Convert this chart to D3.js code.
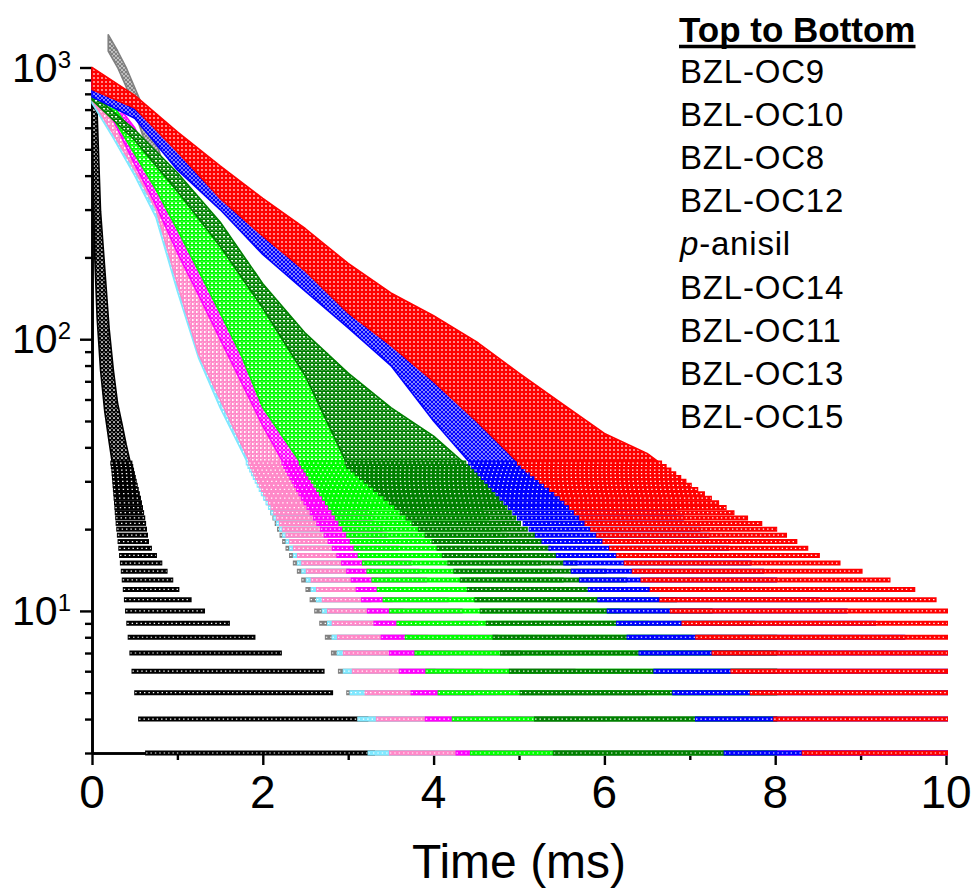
<!DOCTYPE html>
<html>
<head>
<meta charset="utf-8">
<script src="https://cdn.jsdelivr.net/npm/d3@7"></script>
<style>
  html, body { margin: 0; padding: 0; background: #fff; }
  svg { display: block; font-family: "Liberation Sans", Arial, sans-serif; }
</style>
</head>
<body>
<svg id="chart" width="971" height="890"></svg>
<script>
// Decay data: for each sample, time (ms) with the low and
// high edge of the point cloud (counts).
const redTime = [0, 0.5, 1, 1.5, 2, 2.5, 3, 3.5, 4, 4.5, 5, 5.5, 6, 6.5, 7, 7.5, 8, 8.5, 9, 9.5, 10];
const redLow  = [830, 710, 490, 330, 240, 178, 125, 95, 70, 50, 35, 26, 18, 12.5, 8.5, 6, 4, 2.6, 2.4, 2.2, 2];
const redHigh = [1000, 790, 580, 434, 330, 255, 190, 148, 122, 98, 75, 58, 45, 38, 29, 23, 20, 16, 14, 12.5, 10.5];

const blueTime = [0, 0.5, 1, 1.5, 2, 2.5, 3, 3.5, 4, 4.5, 5, 5.5, 6, 6.5, 7, 7.5, 8, 8.5, 9, 9.5, 10];
const blueLow  = [780, 650, 420, 300, 205, 150, 110, 80, 50, 33, 22, 15.5, 10.5, 6.5, 4.3, 2.8, 2.6, 2.4, 2.3, 2.2, 2.1];
const blueHigh = [900, 700, 520, 390, 290, 220, 165, 125, 100, 78, 60, 46, 36, 27, 21, 16.5, 13, 11, 9.5, 8, 7];

const dkgreenTime = [0, 0.5, 1, 1.5, 2, 2.5, 3, 3.5, 4, 4.5, 5, 5.5, 6, 6.5, 7, 7.5, 8];
const dkgreenLow  = [760, 540, 350, 220, 130, 73, 34, 25, 18, 11, 5.2, 2.7, 2.5, 2.4, 2.3, 2.2, 2.1];
const dkgreenHigh = [800, 590, 410, 270, 160, 105, 75, 56, 44, 32, 21, 15.5, 14, 12, 10.5, 9.5, 8.5];

const greenTime = [0, 0.25, 0.5, 0.75, 1, 1.25, 1.5, 1.75, 2, 2.5, 3, 3.5, 4, 4.5, 5, 5.5, 6, 6.5, 7, 7.5, 8];
const greenLow  = [820, 650, 480, 355, 253, 178, 125, 87, 56, 33, 19, 10, 5.5, 2.8, 2.6, 2.5, 2.4, 2.3, 2.2, 2.1, 2];
const greenHigh = [850, 720, 560, 450, 360, 290, 240, 190, 150, 95, 64, 45, 33, 24, 17, 13, 10.5, 9, 8, 7.5, 7];

const magentaTime = [0, 0.25, 0.5, 0.75, 1, 1.25, 1.5, 2, 2.5, 3, 3.5, 4, 4.5, 5, 6, 7, 8, 9, 10];
const magentaLow  = [800, 640, 440, 310, 208, 145, 100, 48, 25, 14, 7, 3.6, 2.6, 2.5, 2.4, 2.3, 2.2, 2.1, 2];
const magentaHigh = [900, 760, 600, 420, 290, 220, 160, 85, 48, 28, 18, 12, 9, 7, 5.5, 4.5, 4, 3.6, 3.4];

const pinkTime = [0, 0.25, 0.5, 0.75, 1, 1.25, 1.5, 1.75, 2, 2.25, 2.5, 2.75, 3, 3.25, 3.5, 4, 5, 6, 7, 8, 9, 10];
const pinkLow  = [760, 570, 420, 300, 160, 88, 60, 41, 28, 20, 14.5, 10.5, 6.5, 4.8, 3, 2.6, 2.5, 2.4, 2.3, 2.2, 2.1, 2];
const pinkHigh = [850, 680, 500, 360, 250, 170, 120, 85, 60, 44, 32, 24, 18, 14, 11, 7.5, 5, 4, 3.5, 3.2, 3.1, 3];

const cyanTime = [0, 0.25, 0.5, 0.75, 1, 1.25, 1.5, 1.75, 2, 2.25, 2.5, 2.75, 3, 3.25, 3.5, 4, 5, 6, 7, 8, 9, 10];
const cyanLow  = [740, 550, 400, 280, 150, 85, 56, 39, 27, 19, 13.5, 9.5, 5.5, 3, 2.6, 2.5, 2.4, 2.3, 2.2, 2.1, 2.05, 2];
const cyanHigh = [820, 640, 470, 340, 230, 160, 110, 78, 55, 40, 29, 21, 16, 12, 9.5, 6.5, 4.5, 3.7, 3.3, 3.1, 3.05, 3];

const grayTime = [0.19, 0.3, 0.4, 0.7, 1, 1.25, 1.5, 1.75, 2, 2.25, 2.5, 2.75, 3, 3.25, 3.5, 4, 5, 6, 7, 8, 9, 10];
const grayLow  = [1150, 1000, 850, 450, 210, 110, 62, 40, 28, 18, 12.5, 8, 5, 3.2, 2.6, 2.5, 2.4, 2.3, 2.2, 2.1, 2.05, 2];
const grayHigh = [1320, 1150, 1000, 600, 300, 180, 110, 75, 50, 35, 25, 18, 14, 11, 9, 6, 4, 3.5, 3.2, 3.1, 3.05, 3];

const blackTime = [0, 0.03, 0.06, 0.1, 0.15, 0.2, 0.25, 0.3, 0.35, 0.4, 0.45, 0.5, 0.55, 0.6, 0.65, 0.8, 1, 1.3, 1.75, 2.2, 2.7, 2.8, 3.2, 3.3];
const blackLow  = [720, 210, 120, 77, 54, 42, 33, 21, 15, 10.8, 7.5, 5.5, 4.2, 3.5, 2.95, 2.6, 2.5, 2.4, 2.3, 2.2, 2.15, 2.1, 2.05, 2];
const blackHigh = [720, 710, 680, 296, 181, 110, 77, 58, 49, 41, 35, 30, 26, 22, 17.5, 15, 12, 10, 8.5, 7, 6, 5, 4.2, 2.9];

const legendTitle = 'Top to Bottom';
const legendNames = ['BZL-OC9', 'BZL-OC10', 'BZL-OC8', 'BZL-OC12', 'p-anisil', 'BZL-OC14', 'BZL-OC11', 'BZL-OC13', 'BZL-OC15'];
const xTicks = [0, 2, 4, 6, 8, 10];
const xMinorTicks = [1, 3, 5, 7, 9];
const yTicks = [10, 100, 1000];
const yMinorTicks = [3, 4, 5, 6, 7, 8, 9, 20, 30, 40, 50, 60, 70, 80, 90, 200, 300, 400, 500, 600, 700, 800, 900];

// drawn bottom to top
const series = [
    { id: 'black', color: '#000000', shape: 'pentagon', time: blackTime, low: blackLow, high: blackHigh },
    { id: 'gray', color: '#808080', shape: 'circle', time: grayTime, low: grayLow, high: grayHigh },
    { id: 'cyan', color: '#80E8FF', shape: 'right', time: cyanTime, low: cyanLow, high: cyanHigh },
    { id: 'pink', color: '#FF88C8', shape: 'left', time: pinkTime, low: pinkLow, high: pinkHigh },
    { id: 'magenta', color: '#FF00FF', shape: 'diamond', time: magentaTime, low: magentaLow, high: magentaHigh },
    { id: 'green', color: '#00FF00', shape: 'down', time: greenTime, low: greenLow, high: greenHigh },
    { id: 'dkgreen', color: '#008000', shape: 'up', time: dkgreenTime, low: dkgreenLow, high: dkgreenHigh },
    { id: 'blue', color: '#0000FF', shape: 'circle', time: blueTime, low: blueLow, high: blueHigh },
    { id: 'red', color: '#FF0000', shape: 'square', time: redTime, low: redLow, high: redHigh }
];

const plot = { left: 92, right: 946, top: 67.5, bottom: 753 };
const ROW_MAX = 35; // below this count the points sit on visible integer rows

const x = d3.scaleLinear().domain([0, 10]).range([plot.left, plot.right]);
const y = d3.scaleLog().domain([3, 1000]).range([plot.bottom, plot.top]);

const svg = d3.select('#chart');
const defs = svg.append('defs');

// Marker outlines used as fill texture (4 px cell)
const shapes = {
    square: 'M0.6,0.6H3.4V3.4H0.6Z',
    circle: 'M2,0.5A1.5,1.5 0 1 1 1.99,0.5Z',
    up: 'M2,0.3L3.8,3.5H0.2Z',
    down: 'M0.2,0.5H3.8L2,3.7Z',
    diamond: 'M2,0.2L3.8,2L2,3.8L0.2,2Z',
    left: 'M0.3,2L3.7,0.3V3.7Z',
    right: 'M0.3,0.3L3.7,2L0.3,3.7Z',
    pentagon: 'M2,0.3L3.7,1.5L3.1,3.6H0.9L0.3,1.5Z'
};

series.forEach(s => {
    const p = defs.append('pattern')
        .attr('id', 'pat-' + s.id)
        .attr('patternUnits', 'userSpaceOnUse')
        .attr('width', 4)
        .attr('height', 4);
    p.append('rect').attr('width', 4).attr('height', 4).attr('fill', '#fff');
    p.append('path')
        .attr('d', shapes[s.shape])
        .attr('fill', 'none')
        .attr('stroke', s.color)
        .attr('stroke-width', 1.4);
});

defs.append('clipPath').attr('id', 'band-clip')
    .append('rect')
    .attr('x', 0)
    .attr('y', 0)
    .attr('width', 971)
    .attr('height', y(ROW_MAX + 0.5));

// Axes (drawn first so the points sit on top)
const axisG = svg.append('g').attr('class', 'axes');

const styleAxis = g => {
    g.selectAll('path.domain').attr('stroke', '#000').attr('stroke-width', 2.6);
    g.selectAll('.tick line').attr('stroke', '#000').attr('stroke-width', 2.4);
    g.selectAll('.tick text').remove();
};

axisG.append('g')
    .attr('transform', `translate(0,${plot.bottom})`)
    .call(d3.axisBottom(x).tickValues(xTicks).tickSize(12).tickSizeOuter(0))
    .call(styleAxis);
axisG.append('g')
    .attr('transform', `translate(0,${plot.bottom})`)
    .call(d3.axisBottom(x).tickValues(xMinorTicks).tickSize(7).tickSizeOuter(0))
    .call(styleAxis);
axisG.append('g')
    .attr('transform', `translate(${plot.left},0)`)
    .call(d3.axisLeft(y).tickValues(yTicks).tickSize(12).tickSizeOuter(0))
    .call(styleAxis);
axisG.append('g')
    .attr('transform', `translate(${plot.left},0)`)
    .call(d3.axisLeft(y).tickValues(yMinorTicks).tickSize(7).tickSizeOuter(0))
    .call(styleAxis);

// Where a decaying edge passes a count level (log interpolation between read samples)
function startTime(t, v, k) {
    for (let i = 0; i < v.length; i++) {
        if (v[i] <= k) {
            if (i === 0) return t[0];
            const f = (Math.log(v[i - 1]) - Math.log(k)) / (Math.log(v[i - 1]) - Math.log(v[i]));
            return t[i - 1] + f * (t[i] - t[i - 1]);
        }
    }
    return null;
}

function endTime(t, v, k) {
    for (let i = v.length - 1; i >= 0; i--) {
        if (v[i] >= k) {
            if (i === v.length - 1) return t[i];
            const f = (Math.log(v[i]) - Math.log(k)) / (Math.log(v[i]) - Math.log(v[i + 1]));
            return t[i] + f * (t[i + 1] - t[i]);
        }
    }
    return null;
}

const area = d3.area()
    .x(d => x(d.t))
    .y0(d => y(Math.max(d.lo, 1)))
    .y1(d => y(d.hi));

const dataG = svg.append('g').attr('class', 'data');

series.forEach(s => {
    const g = dataG.append('g').attr('class', 'series-' + s.id);
    const pts = s.time.map((t, i) => ({ t: t, lo: s.low[i], hi: s.high[i] }));

    // dense upper part of the cloud
    g.append('path')
        .datum(pts)
        .attr('d', area)
        .attr('fill', `url(#pat-${s.id})`)
        .attr('stroke', s.color)
        .attr('stroke-width', 1.6)
        .attr('stroke-linejoin', 'round')
        .attr('clip-path', 'url(#band-clip)');

    // discrete count rows near the floor
    const rows = [];
    for (let k = 3; k <= ROW_MAX; k++) {
        const a = startTime(s.time, s.low, k);
        const b = endTime(s.time, s.high, k);
        if (a !== null && b !== null && b > a) rows.push({ k: k, a: a, b: b });
    }

    g.selectAll('line.row')
        .data(rows)
        .enter()
        .append('line')
        .attr('class', 'row')
        .attr('x1', d => x(d.a) - 2)
        .attr('x2', d => x(d.b) + 2)
        .attr('y1', d => y(d.k))
        .attr('y2', d => y(d.k))
        .attr('stroke', s.color)
        .attr('stroke-width', 5);

    g.selectAll('line.hole')
        .data(rows)
        .enter()
        .append('line')
        .attr('class', 'hole')
        .attr('x1', d => x(d.a) - 1)
        .attr('x2', d => x(d.b) + 1)
        .attr('y1', d => y(d.k))
        .attr('y2', d => y(d.k))
        .attr('stroke', '#fff')
        .attr('stroke-width', 1.2)
        .attr('stroke-dasharray', '1.4 3');
});

// Tick labels
svg.append('g')
    .selectAll('text')
    .data(xTicks)
    .enter()
    .append('text')
    .attr('x', d => x(d))
    .attr('y', 808)
    .attr('text-anchor', 'middle')
    .attr('font-size', 46)
    .text(d => d);

const yLabels = svg.append('g')
    .selectAll('text')
    .data(yTicks)
    .enter()
    .append('text')
    .attr('x', 71)
    .attr('y', d => y(d) + 14)
    .attr('text-anchor', 'end')
    .attr('font-size', 41);
yLabels.append('tspan').text('10');
yLabels.append('tspan')
    .attr('dy', -14)
    .attr('font-size', 24)
    .text(d => Math.round(Math.log10(d)));

svg.append('text')
    .attr('x', (plot.left + plot.right) / 2)
    .attr('y', 878)
    .attr('text-anchor', 'middle')
    .attr('font-size', 48)
    .text('Time (ms)');

// Legend text
const legendX = 679;
const title = svg.append('text')
    .attr('x', legendX)
    .attr('y', 42)
    .attr('font-size', 35)
    .attr('font-weight', 'bold')
    .text(legendTitle);
const titleW = title.node().getComputedTextLength();
svg.append('line')
    .attr('x1', legendX)
    .attr('x2', legendX + titleW)
    .attr('y1', 46.5)
    .attr('y2', 46.5)
    .attr('stroke', '#000')
    .attr('stroke-width', 3.5);

legendNames.forEach((name, i) => {
    const t = svg.append('text')
        .attr('x', legendX + 1)
        .attr('y', 83 + i * 43.1)
        .attr('font-size', 33)
        .attr('letter-spacing', 0.8);
    if (name.startsWith('p-')) {
        t.append('tspan').attr('font-style', 'italic').text('p');
        t.append('tspan').text(name.slice(1));
    } else {
        t.text(name);
    }
});
</script>
</body>
</html>
